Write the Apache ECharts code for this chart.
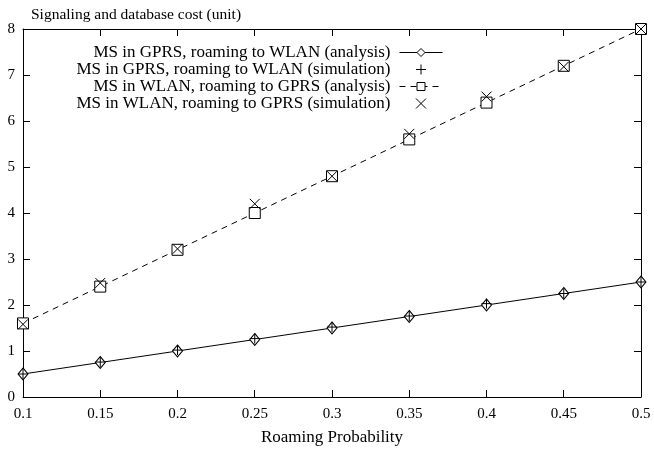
<!DOCTYPE html>
<html>
<head>
<meta charset="utf-8">
<script src="https://cdn.jsdelivr.net/npm/echarts@6/dist/echarts.min.js"></script>
<style>
  html, body { margin: 0; padding: 0; background: #fff; }
  #main { width: 654px; height: 451px; }
</style>
</head>
<body>
<div id="main"></div>
<script>
var probs = [0.1, 0.15, 0.2, 0.25, 0.3, 0.35, 0.4, 0.45, 0.5];
var gprsAnalysis = [0.5, 0.75, 1.0, 1.25, 1.5, 1.75, 2.0, 2.25, 2.5];
var gprsSimulation = [0.5, 0.76, 1.02, 1.27, 1.52, 1.76, 2.03, 2.25, 2.5];
var wlanAnalysis = [1.6, 2.4, 3.2, 4.0, 4.8, 5.6, 6.4, 7.2, 8.0];
var wlanSimulation = [1.58, 2.48, 3.22, 4.2, 4.8, 5.72, 6.53, 7.18, 8.0];
var seriesNames = [
  'MS in GPRS, roaming to WLAN (analysis)',
  'MS in GPRS, roaming to WLAN (simulation)',
  'MS in WLAN, roaming to GPRS (analysis)',
  'MS in WLAN, roaming to GPRS (simulation)'
];

var font = 'Liberation Serif';
var plusPath = 'path://M0,5L10,5M5,0L5,10';
var crossPath = 'path://M0,0L10,10M10,0L0,10';

function pairs(vals) {
  var res = [];
  for (var i = 0; i < probs.length; i++) {
    res.push([probs[i], vals[i]]);
  }
  return res;
}

var myChart = echarts.init(document.getElementById('main'));

var axisCommon = {
  axisLine: { show: true, onZero: false, lineStyle: { color: '#000', width: 1 } },
  axisTick: { show: true, inside: true, length: 7, lineStyle: { color: '#000' } },
  splitLine: { show: false }
};

myChart.setOption({
  animation: false,
  backgroundColor: '#fff',
  textStyle: { fontFamily: font, color: '#000' },
  title: {
    text: 'Signaling and database cost (unit)',
    left: 26,
    top: 2,
    textStyle: { fontFamily: font, fontSize: 15.5, fontWeight: 'normal', color: '#000' }
  },
  grid: { left: 23, right: 13, top: 29, bottom: 53 },
  legend: {
    orient: 'vertical',
    right: 206,
    top: 39,
    align: 'right',
    itemGap: 0,
    itemWidth: 43,
    itemHeight: 10,
    lineStyle: { width: 1 },
    itemStyle: { borderWidth: 1 },
    textStyle: { fontFamily: font, fontSize: 17, lineHeight: 15, color: '#000', padding: [0, 4, 0, 0] },
    data: seriesNames
  },
  xAxis: [
    Object.assign({
      type: 'value',
      min: 0.1, max: 0.5, interval: 0.05,
      name: 'Roaming Probability',
      nameLocation: 'middle',
      nameGap: 32,
      nameTextStyle: { fontFamily: font, fontSize: 17, color: '#000' },
      axisLabel: {
        fontFamily: font, fontSize: 15, color: '#000', margin: 10,
        formatter: function (v) { return String(+v.toFixed(2)); }
      }
    }, axisCommon),
    Object.assign({
      type: 'value', position: 'top',
      min: 0.1, max: 0.5, interval: 0.05,
      axisLabel: { show: false }
    }, axisCommon)
  ],
  yAxis: [
    Object.assign({
      type: 'value',
      min: 0, max: 8, interval: 1,
      axisLabel: { fontFamily: font, fontSize: 15, color: '#000', margin: 8 }
    }, axisCommon),
    Object.assign({
      type: 'value', position: 'right',
      min: 0, max: 8, interval: 1,
      axisLabel: { show: false }
    }, axisCommon)
  ],
  series: [
    {
      name: seriesNames[0],
      type: 'line',
      data: pairs(gprsAnalysis),
      symbol: 'diamond',
      symbolSize: [10, 12],
      showAllSymbol: true,
      lineStyle: { color: '#000', width: 1 },
      itemStyle: { color: '#fff', borderColor: '#000', borderWidth: 1 },
      z: 2
    },
    {
      name: seriesNames[1],
      type: 'scatter',
      data: pairs(gprsSimulation),
      symbol: plusPath,
      symbolSize: 10,
      itemStyle: { color: 'none', borderColor: '#000', borderWidth: 1, opacity: 1 },
      z: 3
    },
    {
      name: seriesNames[2],
      type: 'line',
      data: pairs(wlanAnalysis),
      symbol: 'rect',
      symbolSize: 11,
      showAllSymbol: true,
      lineStyle: { color: '#000', width: 1, type: [6, 5] },
      itemStyle: { color: '#fff', borderColor: '#000', borderWidth: 1 },
      z: 2
    },
    {
      name: seriesNames[3],
      type: 'scatter',
      data: pairs(wlanSimulation),
      symbol: crossPath,
      symbolSize: 10,
      itemStyle: { color: 'none', borderColor: '#000', borderWidth: 1, opacity: 1 },
      z: 3
    }
  ]
});
</script>
</body>
</html>
